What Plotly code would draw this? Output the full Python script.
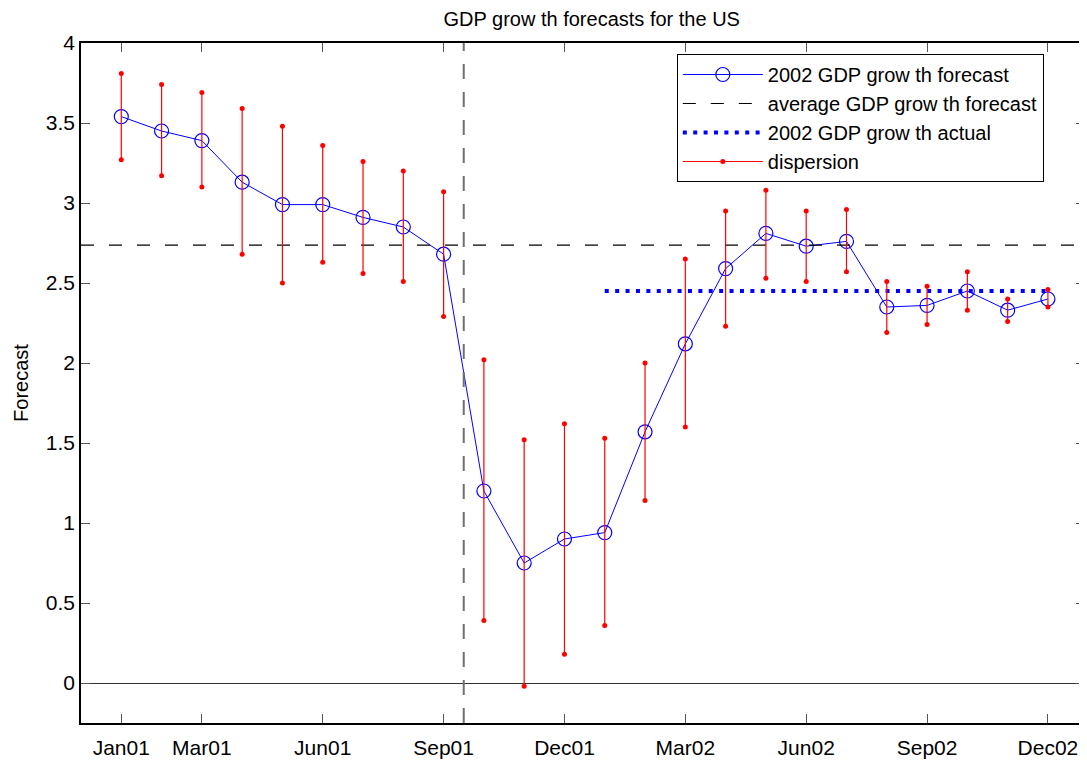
import plotly.graph_objects as go

# monthly survey dates, Jan 2001 .. Dec 2002
months = ["Jan01", "Feb01", "Mar01", "Apr01", "May01", "Jun01", "Jul01", "Aug01",
          "Sep01", "Oct01", "Nov01", "Dec01", "Jan02", "Feb02", "Mar02", "Apr02",
          "May02", "Jun02", "Jul02", "Aug02", "Sep02", "Oct02", "Nov02", "Dec02"]

# consensus forecast of 2002 GDP growth
forecast = [3.54, 3.45, 3.39, 3.13, 2.99, 2.99, 2.91, 2.85, 2.68, 1.20, 0.75, 0.90,
            0.94, 1.57, 2.12, 2.59, 2.81, 2.73, 2.76, 2.35, 2.36, 2.45, 2.33, 2.40]
# dispersion band (low / high)
disp_low = [3.27, 3.17, 3.10, 2.68, 2.50, 2.63, 2.56, 2.51, 2.29, 0.39, -0.02, 0.18,
            0.36, 1.14, 1.60, 2.23, 2.53, 2.51, 2.57, 2.19, 2.24, 2.33, 2.26, 2.35]
disp_high = [3.81, 3.74, 3.69, 3.59, 3.48, 3.36, 3.26, 3.20, 3.07, 2.02, 1.52, 1.62,
             1.53, 2.00, 2.65, 2.95, 3.08, 2.95, 2.96, 2.51, 2.48, 2.57, 2.40, 2.46]

avg_forecast = 2.737
actual_2002 = 2.45
sept11 = 8.5  # position between Sep01 and Oct01

tick_labels = ["Jan01", "Mar01", "Jun01", "Sep01", "Dec01", "Mar02", "Jun02", "Sep02", "Dec02"]

x = list(range(len(months)))
x_lim = [-1, len(months) - 0.08]
tick_pos = [months.index(m) for m in tick_labels]
x_2002 = [i for i, m in enumerate(months) if m.endswith("02")]

FONT = "Liberation Sans, Arial, sans-serif"

fig = go.Figure()
fig.add_trace(go.Scatter(
    x=x, y=forecast, mode="lines+markers", name="2002 GDP grow th forecast",
    line=dict(color="#0000ff", width=1),
    marker=dict(symbol="circle-open", size=14, color="#0000ff", line=dict(width=1.2)),
))
fig.add_trace(go.Scatter(
    x=x_lim, y=[avg_forecast] * 2, mode="lines", name="average GDP grow th forecast",
    line=dict(color="black", width=1.2, dash="13px,15px"),
))
fig.add_trace(go.Scatter(
    x=[x_2002[0], x_2002[-1]], y=[actual_2002] * 2, mode="lines",
    name="2002 GDP grow th actual",
    line=dict(color="#0000ff", width=4, dash="4px,6.4px"),
))
seg_x, seg_y = [], []
for i, lo, hi in zip(x, disp_low, disp_high):
    seg_x += [i, i, None]
    seg_y += [lo, hi, None]
fig.add_trace(go.Scatter(
    x=seg_x, y=seg_y, mode="lines+markers", name="dispersion",
    line=dict(color="#ff0000", width=1.2),
    marker=dict(color="#ff0000", size=5),
))

fig.add_vline(x=sept11, line=dict(color="#707070", width=2, dash="15px,13px"))

# the page body adds an 8px offset, so margins are shifted to compensate
fig.update_layout(
    width=1087, height=760,
    margin=dict(l=73, r=8, t=35, b=45),
    paper_bgcolor="white", plot_bgcolor="white",
    font=dict(family=FONT, size=21, color="black"),
    title=dict(text="GDP grow th forecasts for the US", x=0.537, xanchor="center",
               y=1 - 4 / 760, yref="container", yanchor="top",
               font=dict(size=20, family=FONT)),
    legend=dict(x=(678 - 81) / 1006, y=(723 - 54) / 680, xanchor="left", yanchor="top",
                bgcolor="white", bordercolor="black", borderwidth=1,
                font=dict(size=20, family=FONT), tracegroupgap=0, itemwidth=80),
    showlegend=True,
)
fig.update_xaxes(
    range=x_lim, tickvals=tick_pos, ticktext=tick_labels,
    showgrid=False, zeroline=False, showline=True, linecolor="black", linewidth=1.5,
    mirror="ticks", ticks="inside", ticklen=9, tickcolor="#555",
    ticklabelstandoff=5,
)
fig.update_yaxes(
    range=[-0.25, 4], dtick=0.5, tick0=0,
    showgrid=False, zeroline=True, zerolinecolor="#333", zerolinewidth=1,
    showline=True, linecolor="black", linewidth=1.5,
    mirror="ticks", ticks="inside", ticklen=9, tickcolor="#555",
    ticklabelstandoff=0,
    title=dict(text="Forecast", font=dict(size=20, family=FONT), standoff=12),
)

fig.write_html("out.html")
